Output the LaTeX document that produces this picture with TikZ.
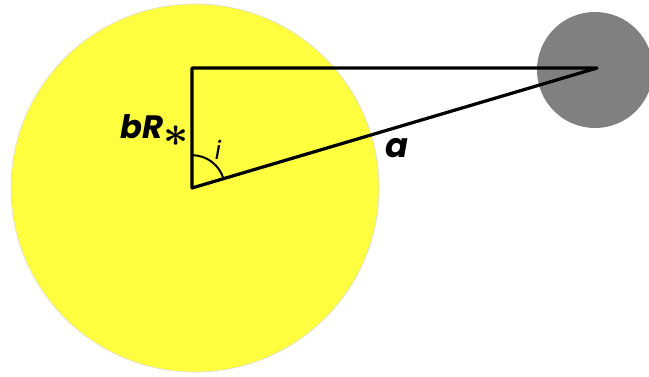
\documentclass[tikz,border=0pt]{standalone}
\usepackage{amsmath}
\usepackage{fontspec}
\setmainfont{Poppins}
\usetikzlibrary{angles,quotes}
\definecolor{staryellow}{HTML}{FFFF40}

\begin{document}
\begin{tikzpicture}[x=0.025cm,y=0.025cm]
\useasboundingbox (0,0) rectangle (649,376);
\coordinate (O) at (192,188); \coordinate (T) at (192,308); \coordinate (P) at (597,308);
\fill[staryellow,draw=black!15,line width=0.4pt] (195,188) circle (184);
\fill[gray] (595,306) circle (58);
\draw[line width=2.3pt,line join=round] (O)--(T)--(P)--cycle;
\draw[line width=1.4pt] pic[draw,angle radius=0.82cm] {angle=P--O--T};
\node[anchor=base west,inner sep=0pt] (lb) at (120,238) {\fontsize{23}{27}\selectfont\bfseries\itshape bR\raisebox{-6pt}{\scalebox{1.25}{$\boldsymbol{\ast}$}}};
\node (li) at (218,226) {\fontsize{18}{21}\selectfont\itshape i};
\node (la) at (397,228) {\fontsize{24}{28}\selectfont\bfseries\itshape a};
\end{tikzpicture}
\end{document}
